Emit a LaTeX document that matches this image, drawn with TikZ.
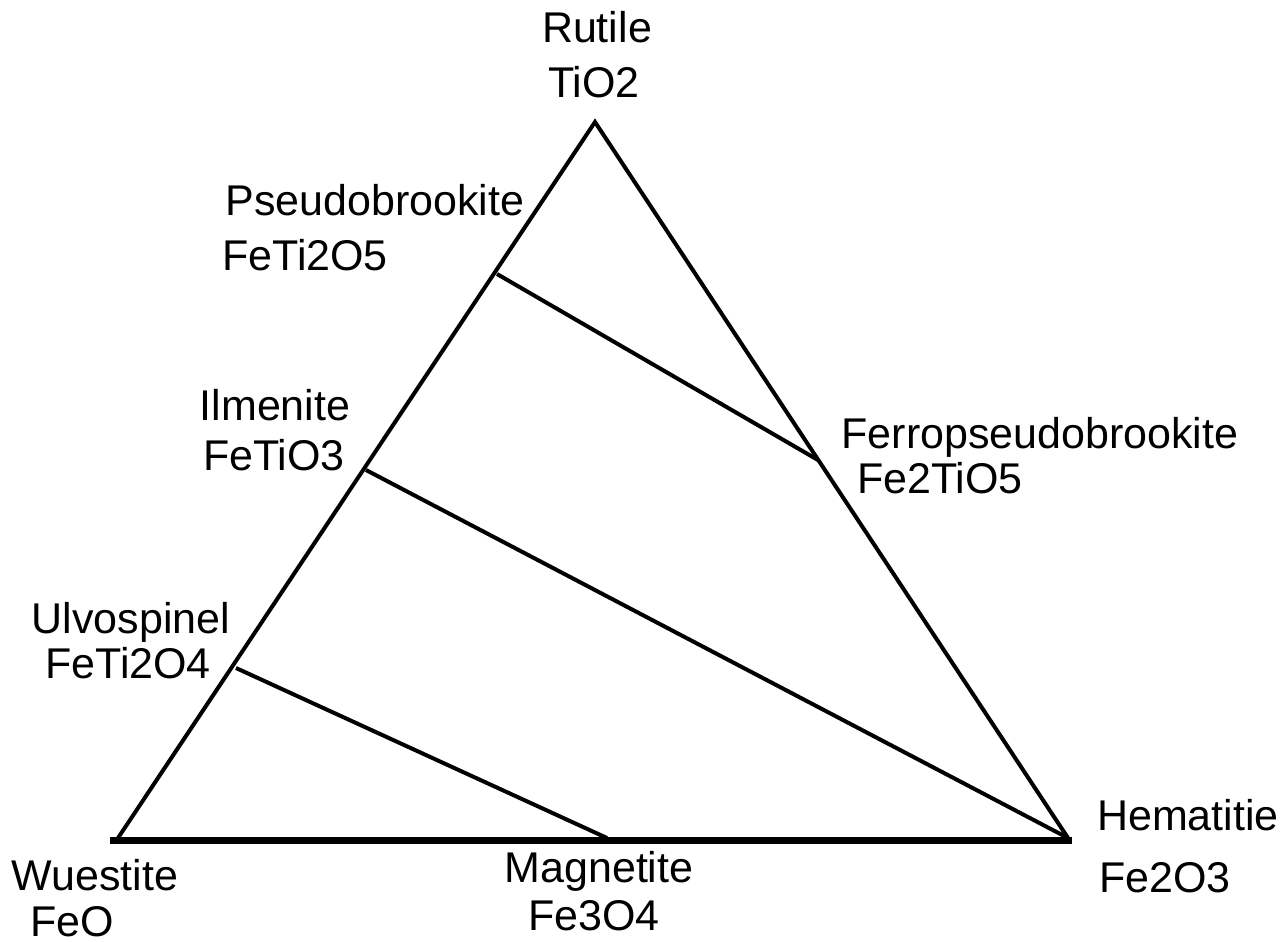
\documentclass[tikz,border=0pt]{standalone}
\usepackage{fontspec}
\setmainfont{Liberation Sans}
\begin{document}
\begin{tikzpicture}[x=1pt,y=-1pt,
  edge/.style={line width=4pt},
  base/.style={line width=7pt},
  lbl/.style={inner sep=0pt,anchor=base,font=\fontsize{43}{50}\selectfont}]
\useasboundingbox (0,0) rectangle (1286,942);
% vertices and junctions
\coordinate (T) at (595,122);
\coordinate (W) at (118,838);
\coordinate (H) at (1068,838);
\coordinate (Wb) at (110,840);
\coordinate (Hb) at (1072,840);
\coordinate (P) at (497,274);
\coordinate (I) at (366,470);
\coordinate (U) at (236,668);
\coordinate (F) at (818,460);
\coordinate (M) at (607,838);
% triangle
\draw[edge,line join=miter] (W) -- (T) -- (H);
\draw[base] (Wb) -- (Hb);
% tie lines
\draw[edge] (P) -- (F);
\draw[edge] (I) -- (H);
\draw[edge] (U) -- (M);
% labels
\node[lbl] (rut1) at (597,43) {Rutile};
\node[lbl] (rut2) at (594,97) {TiO2};
\node[lbl] (ps1) at (375,215) {Pseudobrookite};
\node[lbl] (ps2) at (305,270) {FeTi2O5};
\node[lbl] (il1) at (275,420) {Ilmenite};
\node[lbl] (il2) at (274,470) {FeTiO3};
\node[lbl] (ul1) at (131,633) {Ulvospinel};
\node[lbl] (ul2) at (128,678) {FeTi2O4};
\node[lbl] (fp1) at (1040,448) {Ferropseudobrookite};
\node[lbl] (fp2) at (940,493) {Fe2TiO5};
\node[lbl] (wu1) at (95,890) {Wuestite};
\node[lbl] (wu2) at (72,936) {FeO};
\node[lbl] (mg1) at (599,882) {Magnetite};
\node[lbl] (mg2) at (594,930) {Fe3O4};
\node[lbl] (he1) at (1188,830) {Hematitie};
\node[lbl] (he2) at (1165,892) {Fe2O3};
\end{tikzpicture}
\end{document}
